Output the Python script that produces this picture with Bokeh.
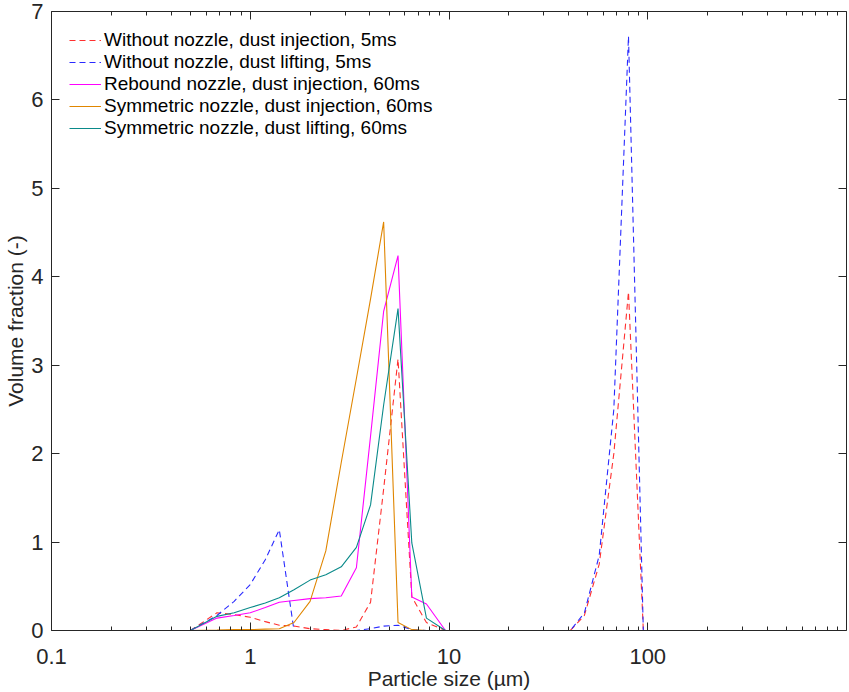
from bokeh.plotting import figure
from bokeh.models import (Range1d, LogAxis, LinearAxis, FixedTicker, Legend, LegendItem,
                          NumeralTickFormatter, LogScale)
from bokeh.embed import file_html
from bokeh.resources import INLINE

# Particle size grid (µm)
sizes = [0.5, 0.68, 0.83, 1.0, 1.19, 1.4, 1.66, 2.0, 2.4, 2.87, 3.42, 4.03, 4.69, 5.54,
         6.5, 7.7, 9.6, 40.8, 48.0, 57.0, 67.5, 80.0, 95.0, 190.0]

wo_injection_5ms = [0, 0.2, 0.18, 0.15, 0.1, 0.06, 0.05, 0.02, 0.01, 0.0, 0.04, 0.32, 1.6, 3.07,
                    0.38, 0.09, 0, 0, 0.17, 0.75, 2.0, 3.83, 0, 0]
wo_lifting_5ms = [0, 0.17, 0.33, 0.52, 0.8, 1.14, 0, 0, 0, 0, 0, 0.02, 0.05, 0.06,
                  0.01, 0, 0, 0, 0.2, 0.85, 2.5, 6.72, 0, 0]
rebound_injection_60ms = [0, 0.14, 0.17, 0.2, 0.26, 0.32, 0.34, 0.36, 0.37, 0.39, 0.71, 2.2, 3.61, 4.24,
                          0.38, 0.3, 0, 0, 0, 0, 0, 0, 0, 0]
sym_injection_60ms = [0, 0.005, 0.01, 0.01, 0.015, 0.02, 0.09, 0.33, 0.9, 1.9, 2.85, 3.75, 4.62, 0.09,
                      0.01, 0, 0, 0, 0, 0, 0, 0, 0, 0]
sym_lifting_60ms = [0, 0.16, 0.2, 0.26, 0.31, 0.37, 0.46, 0.57, 0.63, 0.72, 0.94, 1.42, 2.55, 3.64,
                    0.99, 0.14, 0, 0, 0, 0, 0, 0, 0, 0]

labels = ["Without nozzle, dust injection, 5ms",
          "Without nozzle, dust lifting, 5ms",
          "Rebound nozzle, dust injection, 60ms",
          "Symmetric nozzle, dust injection, 60ms",
          "Symmetric nozzle, dust lifting, 60ms"]
series = [wo_injection_5ms, wo_lifting_5ms, rebound_injection_60ms, sym_injection_60ms, sym_lifting_60ms]
colors = ["#ff3030", "#2a2aff", "#ff00ff", "#e08600", "#0a8a8a"]
dashes = ["6 4", "6 4", "solid", "solid", "solid"]

x_major = [0.1, 1, 10, 100]
x_minor = [0.2, 0.3, 0.4, 0.5, 0.6, 0.7, 0.8, 0.9, 2, 3, 4, 5, 6, 7, 8, 9,
           20, 30, 40, 50, 60, 70, 80, 90, 200, 300, 400, 500, 600, 700, 800, 900]
y_major = [0, 1, 2, 3, 4, 5, 6, 7]

FONT = "Liberation Sans"

p = figure(width=849, height=692, x_axis_type=None, y_axis_type=None,
           x_range=Range1d(0.1, 1000), y_range=Range1d(0, 7),
           output_backend="svg", toolbar_location=None,
           min_border_left=51, min_border_right=3, min_border_top=11, min_border_bottom=61)
p.x_scale = LogScale()
p.xgrid.visible = False
p.ygrid.visible = False
p.outline_line_color = None
p.background_fill_color = "white"
p.border_fill_color = "white"


def style(ax, labels_on):
    ax.axis_line_color = "#262626"
    ax.axis_line_width = 1
    ax.major_tick_line_color = "#262626"
    ax.minor_tick_line_color = "#262626"
    ax.major_tick_in = 8
    ax.major_tick_out = 0
    ax.minor_tick_in = 4
    ax.minor_tick_out = 0
    ax.major_label_text_font = FONT
    ax.major_label_text_color = "#262626"
    ax.axis_label_text_font = FONT
    ax.axis_label_text_font_style = "normal"
    ax.axis_label_text_color = "#262626"
    if not labels_on:
        ax.major_label_text_font_size = "1px"
        ax.major_label_text_color = None
        ax.major_label_standoff = 0


xt = FixedTicker(ticks=x_major, minor_ticks=x_minor)
yt = FixedTicker(ticks=y_major, minor_ticks=[])

xb = LogAxis(ticker=xt, formatter=NumeralTickFormatter(format="0.[0]"),
             axis_label="Particle size (µm)")
style(xb, True)
xb.major_label_text_font_size = "22px"
xb.major_label_standoff = 18
xb.axis_label_text_font_size = "21px"
xb.axis_label_standoff = 0
p.add_layout(xb, "below")

xa = LogAxis(ticker=FixedTicker(ticks=x_major, minor_ticks=x_minor),
             formatter=NumeralTickFormatter(format="0.[0]"))
style(xa, False)
p.add_layout(xa, "above")

yl = LinearAxis(ticker=yt, axis_label="Volume fraction (-)")
style(yl, True)
yl.minor_tick_line_color = None
yl.major_label_text_font_size = "22px"
yl.major_label_standoff = 8
yl.axis_label_text_font_size = "21px"
yl.axis_label_standoff = 1
p.add_layout(yl, "left")

yr = LinearAxis(ticker=FixedTicker(ticks=y_major, minor_ticks=[]))
style(yr, False)
yr.minor_tick_line_color = None
p.add_layout(yr, "right")

items = []
for lab, ys, c, d in zip(labels, series, colors, dashes):
    r = p.line(sizes, ys, line_color=c, line_width=1.1, line_dash=d)
    items.append(LegendItem(label=lab, renderers=[r]))

leg = Legend(items=items, location="top_left")
leg.label_text_font = FONT
leg.label_text_font_size = "19px"
leg.label_text_color = "#000000"
leg.glyph_width = 32
leg.glyph_height = 22
leg.label_height = 22
leg.label_standoff = 3
leg.spacing = 0
leg.padding = 2
leg.margin = 16
leg.border_line_alpha = 0
leg.background_fill_alpha = 0
p.add_layout(leg)

open("out.html", "w").write(file_html(p, INLINE))
